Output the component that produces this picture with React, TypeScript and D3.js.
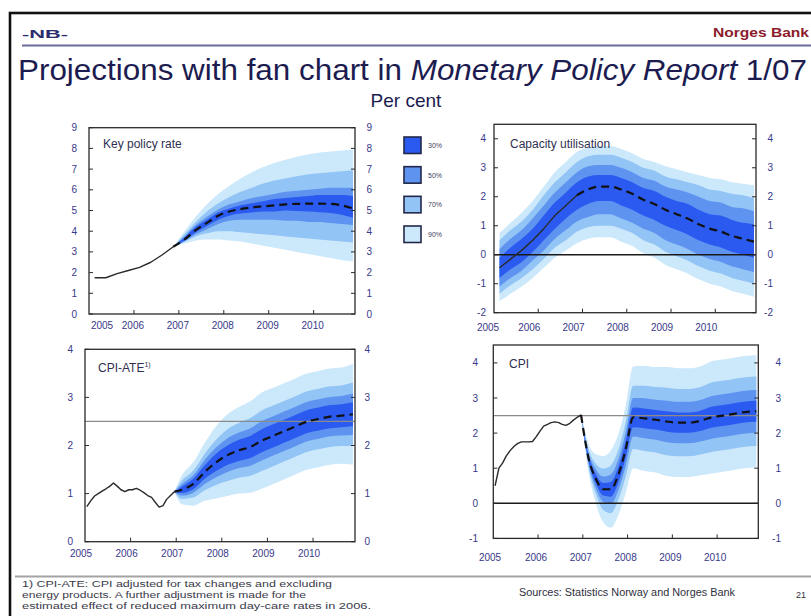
import React from "react";
import * as d3 from "d3";

// ---------- shared x categories ----------
const QUARTERS = [2005.125, 2005.375, 2005.625, 2005.875, 2006.125, 2006.375, 2006.625, 2006.875, 2007.125, 2007.375, 2007.625, 2007.875, 2008.125, 2008.375, 2008.625, 2008.875, 2009.125, 2009.375, 2009.625, 2009.875, 2010.125, 2010.375, 2010.625, 2010.875];
const MONTHS = [2005.04, 2005.125, 2005.21, 2005.29, 2005.375, 2005.46, 2005.54, 2005.625, 2005.71, 2005.79, 2005.875, 2005.96, 2006.04, 2006.125, 2006.21, 2006.29, 2006.375, 2006.46, 2006.54, 2006.625, 2006.71, 2006.79, 2006.875, 2006.96];
const YEAR_LABELS = ["2005", "2006", "2007", "2008", "2009", "2010"];
const YEAR_TICKS = [2006, 2007, 2008, 2009, 2010];
const BAND_LABELS = ["30%", "50%", "70%", "90%"];

// ---------- Key policy rate ----------
const KPR_HIST = [1.75, 1.75, 1.95, 2.1, 2.25, 2.5, 2.85, 3.25];
const KPR_PROJ_X = QUARTERS.slice(7);
const KPR_PROJ = [3.25, 3.6, 4.05, 4.4, 4.75, 4.95, 5.07, 5.15, 5.2, 5.25, 5.3, 5.32, 5.33, 5.33, 5.32, 5.25, 5.1];
const KPR_UP90 = [3.25, 4.0, 4.7, 5.3, 5.8, 6.2, 6.55, 6.85, 7.1, 7.3, 7.45, 7.6, 7.7, 7.8, 7.85, 7.9, 7.95];
const KPR_LO90 = [3.25, 3.4, 3.55, 3.6, 3.6, 3.55, 3.5, 3.4, 3.3, 3.2, 3.1, 3.0, 2.9, 2.8, 2.7, 2.6, 2.55];
const KPR_UP70 = [3.25, 3.85, 4.45, 4.95, 5.35, 5.65, 5.9, 6.1, 6.3, 6.45, 6.55, 6.65, 6.75, 6.8, 6.85, 6.9, 6.95];
const KPR_LO70 = [3.25, 3.5, 3.75, 3.9, 4.0, 4.0, 3.95, 3.9, 3.85, 3.8, 3.75, 3.7, 3.65, 3.6, 3.55, 3.5, 3.45];
const KPR_UP50 = [3.25, 3.75, 4.3, 4.7, 5.05, 5.3, 5.45, 5.6, 5.7, 5.8, 5.9, 5.95, 6.0, 6.05, 6.1, 6.1, 6.1];
const KPR_LO50 = [3.25, 3.5, 3.85, 4.1, 4.35, 4.5, 4.55, 4.55, 4.55, 4.55, 4.5, 4.5, 4.45, 4.45, 4.4, 4.35, 4.3];
const KPR_UP30 = [3.25, 3.7, 4.2, 4.55, 4.9, 5.1, 5.25, 5.35, 5.45, 5.55, 5.6, 5.65, 5.7, 5.75, 5.75, 5.75, 5.7];
const KPR_LO30 = [3.25, 3.55, 3.95, 4.25, 4.55, 4.75, 4.85, 4.9, 4.95, 4.95, 5.0, 4.98, 4.95, 4.92, 4.88, 4.8, 4.65];

// ---------- Capacity utilisation ----------
const CAP_HIST_X = QUARTERS.slice(0, 8);
const CAP_HIST = [-0.45, -0.15, 0.15, 0.5, 0.9, 1.35, 1.7, 2.05];
const CAP_PROJ_X = QUARTERS.slice(7);
const CAP_PROJ = [2.05, 2.25, 2.35, 2.35, 2.25, 2.1, 1.9, 1.75, 1.55, 1.4, 1.25, 1.05, 0.9, 0.8, 0.65, 0.55, 0.45];
const CAP_UP90 = [0.75, 1.1, 1.45, 1.85, 2.35, 2.85, 3.2, 3.55, 3.7, 3.75, 3.75, 3.65, 3.5, 3.3, 3.2, 3.05, 2.95, 2.85, 2.75, 2.65, 2.6, 2.5, 2.45, 2.4];
const CAP_LO90 = [-1.6, -1.35, -1.1, -0.8, -0.45, -0.1, 0.15, 0.4, 0.55, 0.6, 0.6, 0.45, 0.3, 0.05, -0.1, -0.35, -0.5, -0.65, -0.85, -1.0, -1.1, -1.25, -1.35, -1.45];
const CAP_UP70 = [0.5, 0.85, 1.15, 1.55, 2.05, 2.5, 2.85, 3.2, 3.4, 3.45, 3.45, 3.35, 3.2, 3.0, 2.9, 2.7, 2.6, 2.5, 2.4, 2.25, 2.2, 2.1, 2.05, 1.95];
const CAP_LO70 = [-1.35, -1.05, -0.8, -0.5, -0.15, 0.25, 0.5, 0.8, 0.95, 1.0, 1.0, 0.9, 0.75, 0.5, 0.35, 0.1, -0.05, -0.2, -0.4, -0.55, -0.65, -0.8, -0.9, -1.0];
const CAP_UP50 = [0.2, 0.55, 0.85, 1.25, 1.7, 2.15, 2.5, 2.85, 3.05, 3.1, 3.1, 3.0, 2.85, 2.65, 2.55, 2.35, 2.25, 2.15, 2.0, 1.85, 1.8, 1.65, 1.6, 1.5];
const CAP_LO50 = [-1.1, -0.8, -0.55, -0.2, 0.15, 0.55, 0.85, 1.15, 1.3, 1.4, 1.4, 1.25, 1.1, 0.9, 0.75, 0.5, 0.35, 0.2, 0.0, -0.15, -0.25, -0.4, -0.5, -0.6];
const CAP_UP30 = [-0.1, 0.25, 0.55, 0.9, 1.35, 1.8, 2.15, 2.5, 2.7, 2.75, 2.75, 2.65, 2.5, 2.3, 2.2, 2.0, 1.85, 1.75, 1.55, 1.4, 1.35, 1.2, 1.1, 1.05];
const CAP_LO30 = [-0.8, -0.5, -0.25, 0.1, 0.5, 0.9, 1.25, 1.55, 1.75, 1.85, 1.85, 1.7, 1.55, 1.35, 1.2, 1.0, 0.85, 0.7, 0.5, 0.35, 0.25, 0.1, 0.0, -0.1];

// ---------- CPI-ATE ----------
const ATE_HIST = [0.73, 0.85, 0.95, 1.0, 1.05, 1.1, 1.15, 1.22, 1.15, 1.08, 1.04, 1.08, 1.08, 1.11, 1.07, 1.02, 0.96, 0.92, 0.82, 0.72, 0.75, 0.88, 0.96, 1.04];
const ATE_PROJ_X = [2006.96, ...QUARTERS.slice(8)];
const ATE_PROJ = [1.04, 1.08, 1.2, 1.45, 1.65, 1.8, 1.9, 1.97, 2.1, 2.2, 2.3, 2.4, 2.5, 2.55, 2.6, 2.62, 2.65];
const ATE_UP90 = [1.04, 1.38, 1.65, 2.05, 2.4, 2.65, 2.8, 2.92, 3.1, 3.2, 3.3, 3.4, 3.5, 3.55, 3.6, 3.62, 3.7];
const ATE_LO90 = [1.04, 0.78, 0.75, 0.85, 0.9, 0.95, 1.0, 1.02, 1.1, 1.2, 1.3, 1.4, 1.5, 1.55, 1.6, 1.62, 1.6];
const ATE_UP70 = [1.04, 1.27, 1.48, 1.83, 2.12, 2.34, 2.47, 2.57, 2.73, 2.83, 2.93, 3.03, 3.13, 3.18, 3.23, 3.25, 3.31];
const ATE_LO70 = [1.04, 0.89, 0.92, 1.07, 1.18, 1.26, 1.33, 1.37, 1.47, 1.57, 1.67, 1.77, 1.87, 1.92, 1.97, 1.99, 1.99];
const ATE_UP50 = [1.04, 1.2, 1.38, 1.7, 1.96, 2.15, 2.27, 2.36, 2.51, 2.61, 2.71, 2.81, 2.91, 2.96, 3.01, 3.03, 3.08];
const ATE_LO50 = [1.04, 0.96, 1.02, 1.2, 1.34, 1.45, 1.53, 1.58, 1.69, 1.79, 1.89, 1.99, 2.09, 2.14, 2.19, 2.21, 2.22];
const ATE_UP30 = [1.04, 1.15, 1.31, 1.59, 1.83, 2.0, 2.12, 2.2, 2.34, 2.44, 2.54, 2.64, 2.74, 2.79, 2.84, 2.86, 2.9];
const ATE_LO30 = [1.04, 1.01, 1.09, 1.31, 1.47, 1.6, 1.68, 1.74, 1.86, 1.96, 2.06, 2.16, 2.26, 2.31, 2.36, 2.38, 2.4];

// ---------- CPI ----------
const CPI_HIST = [0.5, 1.0, 1.15, 1.35, 1.5, 1.62, 1.7, 1.75, 1.75, 1.75, 1.76, 1.9, 2.05, 2.2, 2.25, 2.3, 2.32, 2.3, 2.25, 2.22, 2.28, 2.37, 2.45, 2.52];
const CPI_PROJ_X = [2006.96, 2007.125, 2007.29, 2007.46, 2007.625, 2007.79, 2007.96, 2008.125, 2008.375, 2008.625, 2008.875, 2009.125, 2009.375, 2009.625, 2009.875, 2010.125, 2010.375, 2010.625, 2010.875];
const CPI_PROJ = [2.52, 1.3, 0.7, 0.4, 0.4, 0.8, 1.55, 2.45, 2.42, 2.38, 2.33, 2.3, 2.3, 2.35, 2.45, 2.5, 2.55, 2.6, 2.62];
const CPI_UP90 = [2.52, 1.7, 1.4, 1.35, 1.5, 1.95, 2.8, 3.9, 3.92, 3.88, 3.88, 3.85, 3.85, 3.9, 4.05, 4.1, 4.15, 4.2, 4.22];
const CPI_LO90 = [2.52, 0.9, 0.0, -0.55, -0.7, -0.35, 0.3, 1.0, 0.92, 0.88, 0.78, 0.75, 0.75, 0.8, 0.85, 0.9, 0.95, 1.0, 1.02];
const CPI_UP70 = [2.52, 1.55, 1.13, 0.99, 1.08, 1.51, 2.33, 3.35, 3.35, 3.31, 3.29, 3.26, 3.26, 3.31, 3.44, 3.49, 3.54, 3.59, 3.61];
const CPI_LO70 = [2.52, 1.05, 0.27, -0.19, -0.28, 0.09, 0.77, 1.55, 1.49, 1.45, 1.37, 1.34, 1.34, 1.39, 1.46, 1.51, 1.56, 1.61, 1.63];
const CPI_UP50 = [2.52, 1.45, 0.97, 0.76, 0.82, 1.24, 2.03, 3.0, 2.99, 2.95, 2.92, 2.89, 2.89, 2.94, 3.06, 3.11, 3.16, 3.21, 3.23];
const CPI_LO50 = [2.52, 1.15, 0.43, 0.04, -0.02, 0.36, 1.07, 1.9, 1.85, 1.81, 1.74, 1.71, 1.71, 1.76, 1.84, 1.89, 1.94, 1.99, 2.01];
const CPI_UP30 = [2.52, 1.38, 0.83, 0.58, 0.61, 1.02, 1.79, 2.73, 2.7, 2.66, 2.62, 2.59, 2.59, 2.64, 2.75, 2.8, 2.85, 2.9, 2.92];
const CPI_LO30 = [2.52, 1.22, 0.57, 0.22, 0.19, 0.58, 1.31, 2.17, 2.14, 2.1, 2.04, 2.01, 2.01, 2.06, 2.15, 2.2, 2.25, 2.3, 2.32];

const FOOTNOTE = [
  "1) CPI-ATE: CPI adjusted for tax changes and excluding",
  "energy products. A further adjustment is made for the",
  "estimated effect of reduced maximum day-care rates in 2006.",
];

// ---------- styles ----------
const FONT = "'Liberation Sans', Arial, sans-serif";
const BAND_COLORS = ["#2a5af0", "#5f93f0", "#93c4f6", "#cce8fb"]; // 30,50,70,90
const TICK_COLOR = "#38388a";

type Band = { lo: number[]; hi: number[] };
type PanelCfg = {
  title: string;
  sup?: string;
  left: number; right: number; top: number; bottom: number;
  yMin: number; yMax: number; yTicks: number[];
  leftLabelX: number; rightLabelX: number; xLabelY: number; labelDx: number; firstLabelX: number;
  titleX: number; titleY: number;
  zero?: boolean; target?: number;
  histX: number[]; hist: number[];
  projX: number[]; proj: number[];
  fanX: number[]; bands: Band[]; // 90,70,50,30
};

const PANELS: PanelCfg[] = [
  {
    title: "Key policy rate",
    left: 89, right: 355, top: 127.7, bottom: 314, yMin: 0, yMax: 9, yTicks: [0, 1, 2, 3, 4, 5, 6, 7, 8, 9],
    leftLabelX: 77, rightLabelX: 372, xLabelY: 329, labelDx: -1, firstLabelX: 102,
    titleX: 103, titleY: 148,
    histX: QUARTERS.slice(0, 8), hist: KPR_HIST, projX: KPR_PROJ_X, proj: KPR_PROJ, fanX: KPR_PROJ_X,
    bands: [{ lo: KPR_LO90, hi: KPR_UP90 }, { lo: KPR_LO70, hi: KPR_UP70 }, { lo: KPR_LO50, hi: KPR_UP50 }, { lo: KPR_LO30, hi: KPR_UP30 }],
  },
  {
    title: "Capacity utilisation",
    left: 494, right: 756, top: 124.3, bottom: 312.7, yMin: -2, yMax: 4.5, yTicks: [-2, -1, 0, 1, 2, 3, 4],
    leftLabelX: 486, rightLabelX: 773, xLabelY: 331, labelDx: -9, firstLabelX: 488,
    titleX: 510, titleY: 148, zero: true,
    histX: CAP_HIST_X, hist: CAP_HIST, projX: CAP_PROJ_X, proj: CAP_PROJ, fanX: QUARTERS,
    bands: [{ lo: CAP_LO90, hi: CAP_UP90 }, { lo: CAP_LO70, hi: CAP_UP70 }, { lo: CAP_LO50, hi: CAP_UP50 }, { lo: CAP_LO30, hi: CAP_UP30 }],
  },
  {
    title: "CPI-ATE", sup: "1)",
    left: 85, right: 355, top: 349.3, bottom: 541.7, yMin: 0, yMax: 4, yTicks: [0, 1, 2, 3, 4],
    leftLabelX: 73, rightLabelX: 370, xLabelY: 557, labelDx: -4, firstLabelX: 81,
    titleX: 98, titleY: 372, target: 2.5,
    histX: MONTHS, hist: ATE_HIST, projX: ATE_PROJ_X, proj: ATE_PROJ, fanX: ATE_PROJ_X,
    bands: [{ lo: ATE_LO90, hi: ATE_UP90 }, { lo: ATE_LO70, hi: ATE_UP70 }, { lo: ATE_LO50, hi: ATE_UP50 }, { lo: ATE_LO30, hi: ATE_UP30 }],
  },
  {
    title: "CPI",
    left: 493.3, right: 758.3, top: 345, bottom: 538.4, yMin: -1, yMax: 4.51, yTicks: [-1, 0, 1, 2, 3, 4],
    leftLabelX: 478, rightLabelX: 781, xLabelY: 561, labelDx: -2, firstLabelX: 490,
    titleX: 509, titleY: 368, zero: true, target: 2.5,
    histX: MONTHS, hist: CPI_HIST, projX: CPI_PROJ_X, proj: CPI_PROJ, fanX: CPI_PROJ_X,
    bands: [{ lo: CPI_LO90, hi: CPI_UP90 }, { lo: CPI_LO70, hi: CPI_UP70 }, { lo: CPI_LO50, hi: CPI_UP50 }, { lo: CPI_LO30, hi: CPI_UP30 }],
  },
];

function FanPanel({ cfg, idx }: { cfg: PanelCfg; idx: number }) {
  const x = d3.scaleLinear().domain([2005, 2010.92]).range([cfg.left, cfg.right]);
  const y = d3.scaleLinear().domain([cfg.yMin, cfg.yMax]).range([cfg.bottom, cfg.top]);
  const clipId = `clip-${idx}`;
  const bandColorOrder = [BAND_COLORS[3], BAND_COLORS[2], BAND_COLORS[1], BAND_COLORS[0]];
  const areaFor = (b: Band) =>
    d3
      .area<number>()
      .x((d) => x(d))
      .y0((_, i) => y(b.lo[i]))
      .y1((_, i) => y(b.hi[i]))
      .curve(d3.curveMonotoneX)(cfg.fanX) || "";
  const histLine =
    d3
      .line<number>()
      .x((d) => x(d))
      .y((_, i) => y(cfg.hist[i]))(cfg.histX) || "";
  const projLine =
    d3
      .line<number>()
      .x((d) => x(d))
      .y((_, i) => y(cfg.proj[i]))
      .curve(d3.curveMonotoneX)(cfg.projX) || "";
  const w = cfg.right - cfg.left;
  const h = cfg.bottom - cfg.top;
  return (
    <g>
      <defs>
        <clipPath id={clipId}>
          <rect x={cfg.left} y={cfg.top} width={w} height={h} />
        </clipPath>
      </defs>
      <g clipPath={`url(#${clipId})`}>
        {cfg.bands.map((b, i) => (
          <path key={i} d={areaFor(b)} fill={bandColorOrder[i]} stroke="none" />
        ))}
        {cfg.target !== undefined && (
          <line x1={cfg.left} x2={cfg.right} y1={y(cfg.target)} y2={y(cfg.target)} stroke="#8a8a8a" strokeWidth={1.2} />
        )}
        {cfg.zero && (
          <line x1={cfg.left} x2={cfg.right} y1={y(0)} y2={y(0)} stroke="#1a1a1a" strokeWidth={1.6} />
        )}
        <path d={histLine} fill="none" stroke="#2a2a2a" strokeWidth={1.4} strokeLinejoin="round" />
        <path d={projLine} fill="none" stroke="#111" strokeWidth={2.2} strokeDasharray="8 5" />
      </g>
      <rect x={cfg.left} y={cfg.top} width={w} height={h} fill="none" stroke="#2a2a2a" strokeWidth={1.3} />
      {cfg.yTicks.map((t) => (
        <g key={`yt${t}`}>
          <line x1={cfg.left} x2={cfg.left + 4} y1={y(t)} y2={y(t)} stroke="#2a2a2a" strokeWidth={1} />
          <line x1={cfg.right - 4} x2={cfg.right} y1={y(t)} y2={y(t)} stroke="#2a2a2a" strokeWidth={1} />
          <text x={cfg.leftLabelX} y={y(t)} dy="0.35em" textAnchor="end" fontSize={10} fill={TICK_COLOR} fontFamily={FONT}>
            {t}
          </text>
          <text x={cfg.rightLabelX} y={y(t)} dy="0.35em" textAnchor="end" fontSize={10} fill={TICK_COLOR} fontFamily={FONT}>
            {t}
          </text>
        </g>
      ))}
      {YEAR_TICKS.map((t) => (
        <line key={`xt${t}`} x1={x(t)} x2={x(t)} y1={cfg.bottom} y2={cfg.bottom - 4} stroke="#2a2a2a" strokeWidth={1} />
      ))}
      {YEAR_LABELS.map((lab, i) => (
        <text
          key={`xl${lab}`}
          x={i === 0 ? cfg.firstLabelX : x(+lab) + cfg.labelDx}
          y={cfg.xLabelY}
          textAnchor="middle"
          fontSize={10}
          fill={TICK_COLOR}
          fontFamily={FONT}
        >
          {lab}
        </text>
      ))}
      <text x={cfg.titleX} y={cfg.titleY} fontSize={12} fill="#303050" fontFamily={FONT}>
        {cfg.title}
        {cfg.sup && (
          <tspan fontSize={7} dy={-5}>
            {cfg.sup}
          </tspan>
        )}
      </text>
    </g>
  );
}

function Legend() {
  const ly = d3.scalePoint<string>().domain(BAND_LABELS).range([137, 226]);
  return (
    <g>
      {BAND_LABELS.map((lab, i) => (
        <g key={lab}>
          <rect x={404} y={ly(lab)!} width={17} height={16.5} fill={BAND_COLORS[i]} stroke="#23284a" strokeWidth={1.6} />
          <text x={428} y={ly(lab)! + 11} fontSize={7} fill="#40405e" fontFamily={FONT}>
            {lab}
          </text>
        </g>
      ))}
    </g>
  );
}

export default function App() {
  return (
    <svg width={811} height={616} viewBox="0 0 811 616" style={{ position: "absolute", left: 0, top: 0, background: "#fff" }}>
      <rect x={0} y={0} width={811} height={616} fill="#fff" />
      {/* outer frame */}
      <rect x={10} y={13} width={830} height={640} fill="none" stroke="#111" strokeWidth={2.6} />
      {/* header */}
      <text x={22} y={38} fontSize={11} fontWeight="bold" fill="#2b2b6e" fontFamily={FONT} textLength={46} lengthAdjust="spacingAndGlyphs">
        -NB-
      </text>
      <text x={713} y={37} fontSize={12.5} fontWeight="bold" fill="#8c1c2c" fontFamily={FONT} textLength={96} lengthAdjust="spacingAndGlyphs">
        Norges Bank
      </text>
      <line x1={22} x2={811} y1={45.5} y2={45.5} stroke="#6c6c9c" strokeWidth={2} />
      <text x={18} y={80} fontSize={30} fill="#1c1c50" fontFamily={FONT} textLength={789} lengthAdjust="spacingAndGlyphs">
        Projections with fan chart in <tspan fontStyle="italic">Monetary Policy Report</tspan> 1/07
      </text>
      <text x={406} y={107} fontSize={19} fill="#1c1c50" fontFamily={FONT} textAnchor="middle">
        Per cent
      </text>
      {PANELS.map((p, i) => (
        <FanPanel key={i} cfg={p} idx={i} />
      ))}
      <Legend />
      {/* footer */}
      <line x1={15} x2={811} y1={576.5} y2={576.5} stroke="#a4a4a4" strokeWidth={2} />
      {FOOTNOTE.map((t, i) => (
        <text
          key={i}
          x={22}
          y={587 + i * 11}
          fontSize={8.5}
          fill="#3a3a4a"
          fontFamily={FONT}
          textLength={[310, 284, 349][i]}
          lengthAdjust="spacingAndGlyphs"
        >
          {t}
        </text>
      ))}
      <text x={519} y={596} fontSize={10} fill="#303040" fontFamily={FONT} textLength={216} lengthAdjust="spacingAndGlyphs">
        Sources: Statistics Norway and Norges Bank
      </text>
      <text x={796} y={598} fontSize={9} fill="#303040" fontFamily={FONT}>
        21
      </text>
    </svg>
  );
}
